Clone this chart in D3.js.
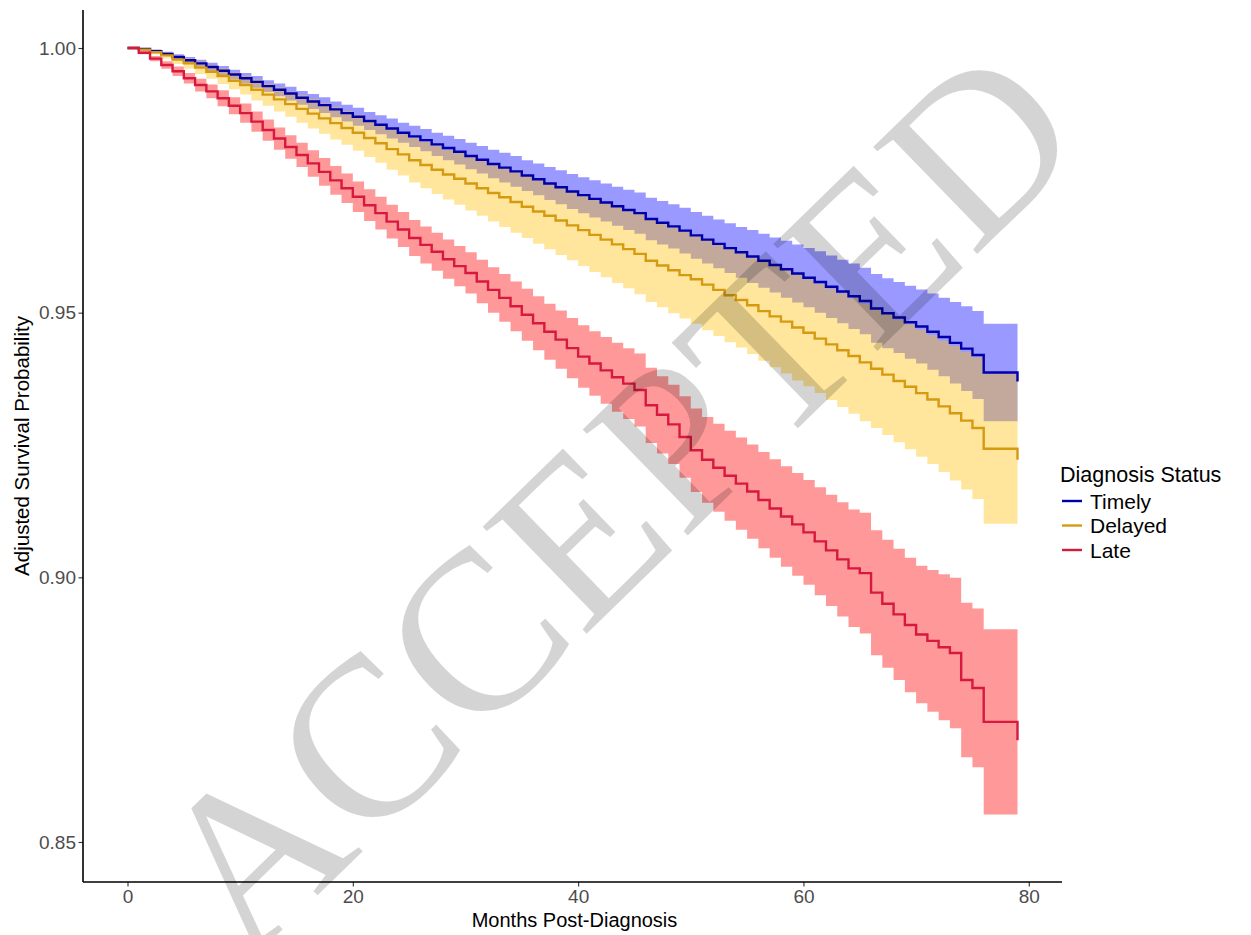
<!DOCTYPE html>
<html>
<head>
<meta charset="utf-8">
<script src="https://cdn.jsdelivr.net/npm/d3@7"></script>
<style>
  html, body { margin: 0; padding: 0; background: #fff; }
  svg { display: block; }
  text { font-family: "Liberation Sans", Arial, sans-serif; }
</style>
</head>
<body>
<svg id="chart" width="1251" height="935"></svg>
<script>
// ---- Data ----
const months = [0,1,2,3,4,5,6,7,8,9,10,11,12,13,14,15,16,17,18,19,20,21,22,23,24,25,26,27,28,29,30,
  31,32,33,34,35,36,37,38,39,40,41,42,43,44,45,46,47,48,49,50,51,52,53,54,55,56,57,58,59,60,
  61,62,63,64,65,66,67,68,69,70,71,72,73,74,75,76,79];

const timely = [1.0000,0.9998,0.9994,0.9989,0.9983,0.9977,0.9971,0.9964,0.9957,0.9950,0.9943,
  0.9936,0.9928,0.9921,0.9914,0.9906,0.9899,0.9892,0.9884,0.9877,0.9870,0.9862,0.9855,0.9848,0.9840,0.9833,
  0.9826,0.9818,0.9811,0.9804,0.9796,0.9789,0.9781,0.9774,0.9767,0.9759,0.9752,0.9744,0.9737,0.9729,0.9722,
  0.9715,0.9708,0.9701,0.9694,0.9688,0.9677,0.9670,0.9663,0.9655,0.9646,
  0.9638,0.9630,0.9622,0.9614,0.9606,0.9598,0.9590,0.9582,0.9574,0.9566,
  0.9558,0.9549,0.9540,0.9531,0.9522,0.9508,0.9499,0.9491,0.9482,0.9474,
  0.9464,0.9454,0.9443,0.9432,0.9420,0.9387,0.9370];

const delayed = [1.0000,0.9997,0.9992,0.9986,0.9978,0.9971,0.9963,0.9955,0.9947,0.9938,0.9930,
  0.9921,0.9912,0.9903,0.9894,0.9885,0.9876,0.9867,0.9858,0.9849,0.9840,0.9830,0.9820,0.9809,0.9799,0.9788,
  0.9779,0.9770,0.9761,0.9753,0.9744,0.9735,0.9726,0.9718,0.9709,0.9700,0.9691,0.9683,0.9674,0.9665,0.9656,
  0.9647,0.9638,0.9629,0.9620,0.9611,0.9598,0.9589,0.9580,0.9571,0.9563,
  0.9553,0.9543,0.9533,0.9524,0.9514,0.9503,0.9493,0.9483,0.9472,0.9462,
  0.9451,0.9440,0.9429,0.9418,0.9406,0.9394,0.9383,0.9371,0.9360,0.9348,
  0.9336,0.9323,0.9310,0.9296,0.9282,0.9243,0.9222];

const late = [1.0000,0.9991,0.9980,0.9968,0.9956,0.9943,0.9930,0.9918,0.9905,0.9891,0.9877,
  0.9861,0.9845,0.9829,0.9813,0.9798,0.9782,0.9766,0.9750,0.9735,0.9719,0.9703,0.9688,0.9672,0.9657,0.9641,
  0.9628,0.9615,0.9601,0.9588,0.9575,0.9559,0.9543,0.9528,0.9512,0.9496,0.9480,0.9464,0.9449,0.9433,0.9417,
  0.9404,0.9391,0.9378,0.9366,0.9354,0.9325,0.9307,0.9289,0.9265,0.9240,
  0.9222,0.9207,0.9192,0.9177,0.9162,0.9146,0.9130,0.9115,0.9100,0.9085,
  0.9068,0.9051,0.9034,0.9017,0.9008,0.8971,0.8950,0.8930,0.8910,0.8892,
  0.8880,0.8868,0.8857,0.8806,0.8791,0.8727,0.8692];

// half-widths of the confidence bands
const timelyCI = [0,0.0002,0.0003,0.0004,0.0005,0.0006,0.0007,0.0008,0.0009,0.0009,0.0010,
  0.0011,0.0011,0.0012,0.0013,0.0013,0.0014,0.0015,0.0015,0.0016,0.0017,0.0017,0.0018,0.0019,0.0019,0.0020,
  0.0021,0.0022,0.0023,0.0024,0.0025,0.0026,0.0027,0.0028,0.0029,0.0029,0.0030,0.0031,0.0032,0.0033,0.0034,
  0.0035,0.0036,0.0037,0.0038,0.0039,0.0040,0.0041,0.0042,0.0043,0.0044,
  0.0045,0.0046,0.0047,0.0048,0.0050,0.0051,0.0052,0.0054,0.0055,0.0056,
  0.0058,0.0059,0.0060,0.0062,0.0063,0.0065,0.0066,0.0067,0.0069,0.0070,
  0.0072,0.0074,0.0077,0.0080,0.0083,0.0092,0.0092];

const delayedCI = [0,0.0002,0.0004,0.0006,0.0008,0.0010,0.0012,0.0013,0.0015,0.0016,0.0018,
  0.0020,0.0021,0.0023,0.0024,0.0026,0.0028,0.0029,0.0031,0.0032,0.0034,0.0036,0.0037,0.0039,0.0040,0.0042,
  0.0044,0.0046,0.0047,0.0049,0.0051,0.0052,0.0054,0.0056,0.0058,0.0059,0.0061,0.0063,0.0065,0.0066,0.0068,
  0.0070,0.0071,0.0073,0.0074,0.0076,0.0078,0.0079,0.0081,0.0082,0.0084,
  0.0086,0.0087,0.0089,0.0090,0.0092,0.0094,0.0096,0.0098,0.0100,0.0101,
  0.0103,0.0105,0.0107,0.0109,0.0111,0.0112,0.0114,0.0116,0.0118,0.0120,
  0.0122,0.0124,0.0127,0.0130,0.0134,0.0142,0.0142];

const lateCI = [0,0.0003,0.0005,0.0007,0.0009,0.0010,0.0012,0.0013,0.0015,0.0016,0.0018,
  0.0019,0.0020,0.0021,0.0022,0.0023,0.0025,0.0026,0.0027,0.0028,0.0029,0.0030,0.0031,0.0032,0.0033,0.0034,
  0.0035,0.0036,0.0037,0.0038,0.0039,0.0041,0.0043,0.0045,0.0047,0.0049,0.0051,0.0053,0.0055,0.0057,0.0059,
  0.0061,0.0063,0.0065,0.0067,0.0069,0.0071,0.0073,0.0075,0.0077,0.0079,
  0.0081,0.0083,0.0085,0.0087,0.0089,0.0091,0.0093,0.0095,0.0097,0.0099,
  0.0102,0.0105,0.0108,0.0111,0.0114,0.0118,0.0121,0.0124,0.0127,0.0130,
  0.0134,0.0138,0.0142,0.0146,0.0150,0.0175,0.0175];

const groups = ["Timely", "Delayed", "Late"];
const lineColors = ["#0000AA", "#D69A10", "#D7193F"];
const bandColors = ["#0000FF", "#FFC107", "#FF0000"];
const xTicks = [0, 20, 40, 60, 80];
const yTicks = [0.85, 0.90, 0.95, 1.00];

// ---- Layout ----
const svg = d3.select("#chart");
const plot = { left: 83, right: 1062, top: 10, bottom: 882 };

const x = d3.scaleLinear().domain([-3.95, 82.95]).range([plot.left, plot.right]);
const y = d3.scaleLinear().domain([0.84244, 1.00718]).range([plot.bottom, plot.top]);

const series = [
  { name: groups[0], est: timely, ci: timelyCI, line: lineColors[0], band: bandColors[0] },
  { name: groups[1], est: delayed, ci: delayedCI, line: lineColors[1], band: bandColors[1] },
  { name: groups[2], est: late, ci: lateCI, line: lineColors[2], band: bandColors[2] }
].map(s => ({ ...s, pts: months.map((m, i) => ({ m, v: s.est[i], lo: s.est[i] - s.ci[i], hi: s.est[i] + s.ci[i] })) }));

const area = d3.area().curve(d3.curveStepAfter)
  .x(d => x(d.m)).y0(d => y(d.lo)).y1(d => y(d.hi));
const line = d3.line().curve(d3.curveStepAfter)
  .x(d => x(d.m)).y(d => y(d.v));

const g = svg.append("g");
series.forEach(s => {
  g.append("path").attr("d", area(s.pts)).attr("fill", s.band).attr("fill-opacity", 0.4);
});
series.forEach(s => {
  g.append("path").attr("d", line(s.pts)).attr("fill", "none")
    .attr("stroke", s.line).attr("stroke-width", 2.4);
});

// ---- Axes ----
const xAxis = d3.axisBottom(x).tickValues(xTicks).tickSize(4.5).tickPadding(3).tickFormat(d3.format("d"));
const yAxis = d3.axisLeft(y).tickValues(yTicks).tickSize(4.5).tickPadding(2.5).tickFormat(d3.format(".2f"));

const gx = svg.append("g").attr("transform", `translate(0,${plot.bottom})`).call(xAxis);
const gy = svg.append("g").attr("transform", `translate(${plot.left},0)`).call(yAxis);
[gx, gy].forEach(a => {
  a.select(".domain").remove();
  a.selectAll(".tick line").attr("stroke", "#333").attr("stroke-width", 1.1);
  a.selectAll(".tick text").attr("fill", "#4D4D4D").style("font-size", "19px");
});
gx.selectAll(".tick text").attr("dy", "0.72em");
svg.append("line").attr("x1", plot.left).attr("x2", plot.right).attr("y1", plot.bottom).attr("y2", plot.bottom)
  .attr("stroke", "#000").attr("stroke-width", 1.6);
svg.append("line").attr("x1", plot.left).attr("x2", plot.left).attr("y1", plot.top).attr("y2", plot.bottom)
  .attr("stroke", "#000").attr("stroke-width", 1.6);

svg.append("text").attr("x", (plot.left + plot.right) / 2 + 2).attr("y", 927)
  .attr("text-anchor", "middle").style("font-size", "20px").attr("fill", "#000")
  .text("Months Post-Diagnosis");
svg.append("text").attr("transform", `translate(29,${(plot.top + plot.bottom) / 2}) rotate(-90)`)
  .attr("text-anchor", "middle").style("font-size", "20.5px").attr("fill", "#000")
  .text("Adjusted Survival Probability");

// ---- Legend ----
const lg = svg.append("g").attr("transform", "translate(1060,0)");
lg.append("text").attr("x", 0).attr("y", 482).style("font-size", "21.5px").attr("fill", "#000").text("Diagnosis Status");
series.forEach((s, i) => {
  const yy = 501 + i * 24.5;
  lg.append("line").attr("x1", 2).attr("x2", 22).attr("y1", yy).attr("y2", yy)
    .attr("stroke", s.line).attr("stroke-width", 2.4);
  lg.append("text").attr("x", 30).attr("y", yy + 7.5).style("font-size", "21px").attr("fill", "#000").text(s.name);
});

// ---- Watermark ----
svg.append("text")
  .attr("transform", "translate(246,965) rotate(-44.2)")
  .style("font-family", "'Liberation Serif', 'DejaVu Serif', serif")
  .style("font-size", "228px")
  .attr("fill", "#000").attr("fill-opacity", 0.17)
  .text("ACCEPTED");
</script>
</body>
</html>
